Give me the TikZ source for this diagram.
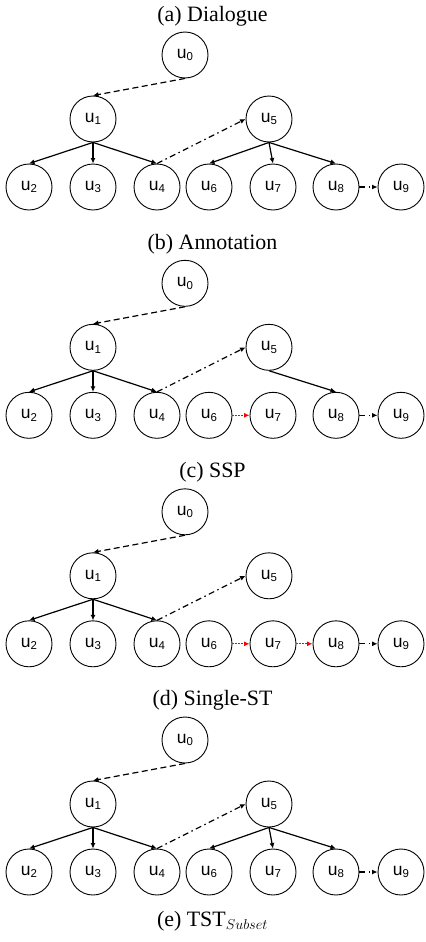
\documentclass[tikz,border=0pt]{standalone}
\usepackage{fontspec}
\setmainfont{Liberation Serif}
\newfontfamily\nodefont{Liberation Sans}
\usetikzlibrary{arrows.meta}

\tikzset{
  utt/.style={circle, draw, line width=0.9bp, minimum size=46bp, inner sep=0pt,
              font=\nodefont\fontsize{17.5}{17.5}\selectfont},
  tipped/.style={-{Latex[length=5.5bp,width=5bp]}},
  reply/.style={tipped, line width=1.2bp},
  prevlink/.style={tipped, line width=1.2bp, dash pattern=on 6bp off 3.5bp},
  jumplink/.style={tipped, line width=1.2bp, dash pattern=on 6bp off 3.5bp on 1.5bp off 3.5bp},
  predlink/.style={tipped, red, line width=1.3bp, dash pattern=on 1.5bp off 1.5bp},
  panelcap/.style={font=\fontsize{22}{22}\selectfont, anchor=base}
}

% label "u" with a sans subscript index
\newcommand\uttlabel[1]{u\raisebox{-2.5bp}{\fontsize{11.5}{11.5}\selectfont #1}}

% the ten utterances of one panel
\newcommand\utterancenodes{%
  \node[utt] (u0) at (185,55)  {\uttlabel{0}};
  \node[utt] (u1) at (93,119)  {\uttlabel{1}};
  \node[utt] (u5) at (269,119) {\uttlabel{5}};
  \node[utt] (u2) at (29,187)  {\uttlabel{2}};
  \node[utt] (u3) at (93,187)  {\uttlabel{3}};
  \node[utt] (u4) at (157,187) {\uttlabel{4}};
  \node[utt] (u6) at (209,187) {\uttlabel{6}};
  \node[utt] (u7) at (273,187) {\uttlabel{7}};
  \node[utt] (u8) at (336,187) {\uttlabel{8}};
  \node[utt] (u9) at (401,187) {\uttlabel{9}};
}

% links shared by every panel
\newcommand\commonlinks{%
  \draw[prevlink] (u0.south) -- (u1.north);
  \draw[reply] (u1.south) -- (u2.north);
  \draw[reply] (u1.south) -- (u3.north);
  \draw[reply] (u1.south) -- (u4.north);
  \draw[jumplink] (u4.north) -- (u5.west);
  \draw[jumplink] (u8.east) -- (u9.west);
}

\begin{document}
\begin{tikzpicture}[x=1bp, y=-1bp]
  \useasboundingbox (0,0) rectangle (425,942);

  % (a) Dialogue
  \node[panelcap] (capa) at (212.5,21) {(a) Dialogue};
  \begin{scope}[name prefix=a-]
    \utterancenodes
    \commonlinks
    \draw[reply] (u5.south) -- (u6.north);
    \draw[reply] (u5.south) -- (u7.north);
    \draw[reply] (u5.south) -- (u8.north);
  \end{scope}

  % (b) Annotation
  \node[panelcap] (capb) at (212.5,249.3) {(b) Annotation};
  \begin{scope}[yshift=-228.3bp, name prefix=b-]
    \utterancenodes
    \commonlinks
    \draw[reply] (u5.south) -- (u8.north);
    \draw[predlink] (u6.east) -- (u7.west);
  \end{scope}

  % (c) SSP
  \node[panelcap] (capc) at (212.5,477.6) {(c) SSP};
  \begin{scope}[yshift=-456.8bp, name prefix=c-]
    \utterancenodes
    \commonlinks
    \draw[predlink] (u6.east) -- (u7.west);
    \draw[predlink] (u7.east) -- (u8.west);
  \end{scope}

  % (d) Single-ST
  \node[panelcap] (capd) at (212.5,705.9) {(d) Single-ST};
  \begin{scope}[yshift=-685bp, name prefix=d-]
    \utterancenodes
    \commonlinks
    \draw[reply] (u5.south) -- (u6.north);
    \draw[reply] (u5.south) -- (u7.north);
    \draw[reply] (u5.south) -- (u8.north);
  \end{scope}

  % (e) caption below the last panel
  \node[panelcap] (cape) at (212.5,926) {(e) TST$_{Subset}$};
\end{tikzpicture}
\end{document}
